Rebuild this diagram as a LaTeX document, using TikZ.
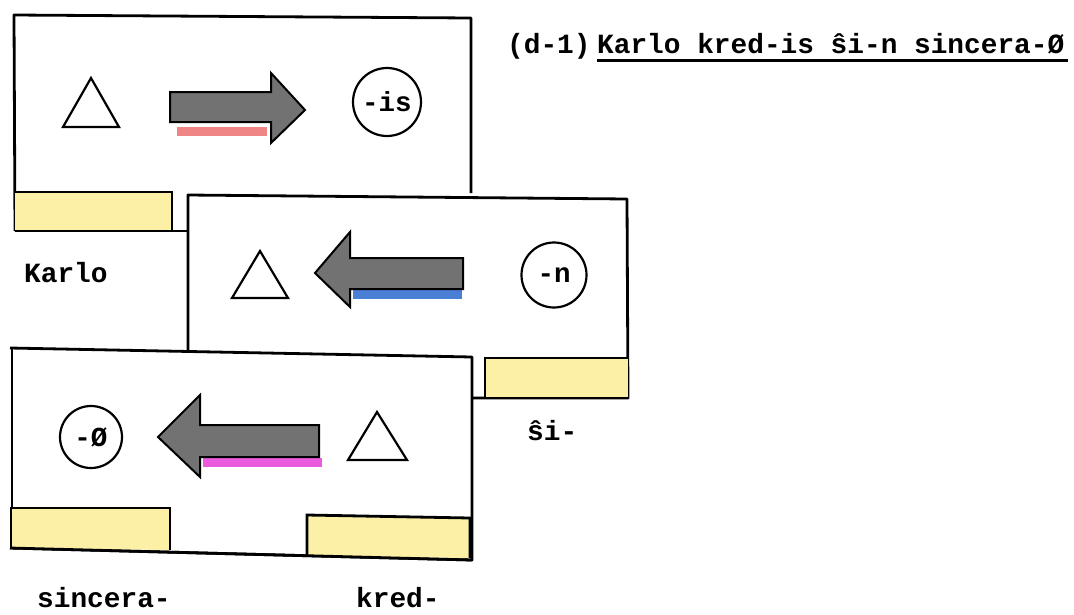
\documentclass[tikz,border=0pt]{standalone}
\usepackage{fontspec}
\setmonofont{Liberation Mono}
\begin{document}
\begin{tikzpicture}[x=1pt,y=-1pt,
  card/.style={draw=black,line width=2.8pt,line join=round},
  ybox/.style={fill=yellowpad,draw=black,line width=2.8pt},
  bigarrow/.style={fill=arrowgray,draw=black,line width=2pt,line join=miter},
  tri/.style={draw=black,line width=2.2pt,line join=miter},
  morph/.style={circle,draw=black,line width=2.2pt,inner sep=0pt,font=\ttfamily\bfseries\fontsize{27.5}{30}\selectfont},
  lbl/.style={anchor=base west,inner sep=0pt,text depth=0pt,font=\ttfamily\bfseries\fontsize{27.8}{30}\selectfont},
  hilite/.style={line width=9pt}
]
\definecolor{yellowpad}{HTML}{FBF0A6}
\definecolor{arrowgray}{HTML}{727272}
\definecolor{redmark}{HTML}{F08585}
\definecolor{bluemark}{HTML}{4A7FD6}
\definecolor{magmark}{HTML}{EA5ADC}
\useasboundingbox[fill=white] (0,0) rectangle (1074,614);

% ---------- card 1 ----------
\fill[white] (14,15) -- (471,18) -- (471,231) -- (15,231) -- cycle;
\draw[card] (15,231) -- (14,15) -- (471,18) -- (471,193);
\draw[ybox] (15,192) -- (172,192) -- (172,231) -- (15,231);
\draw[card] (15,231) -- (188,231);
% triangle
\draw[tri] (63,127) -- (91,78) -- (119,127) -- cycle;
% arrow right
\draw[redmark,hilite] (177,131) -- (267,131);
\draw[bigarrow] (170,92) -- (271,92) -- (271,73) -- (305,110) -- (271,143) -- (271,122) -- (170,122) -- cycle;
\node[morph,minimum size=68pt] (m1) at (387,102) {-is};

% ---------- card 2 ----------
\fill[white] (188,195) -- (627,199) -- (628,398) -- (472,398) -- (472,352) -- (188,352) -- cycle;
\draw[card] (188,352) -- (188,195) -- (627,199) -- (628,398) -- (472,398);
\draw[ybox] (628,398) -- (485,398) -- (485,358) -- (628,358);
% triangle
\draw[tri] (232,298) -- (260,251) -- (288,298) -- cycle;
% arrow left
\draw[bluemark,hilite] (353,294) -- (462,294);
\draw[bigarrow] (463,258) -- (350,258) -- (350,232) -- (315,273) -- (350,307) -- (350,289) -- (463,289) -- cycle;
\node[morph,minimum size=65pt] (m2) at (554,275) {-n};

% ---------- card 3 ----------
\fill[white] (10,348) -- (472,357) -- (472,560) -- (10,548) -- cycle;
\draw[card] (12,548) -- (12,349);
\draw[card] (10,348) -- (472,357) -- (472,560) -- (10,548);
\draw[ybox] (11,548) -- (11,508) -- (170,508) -- (170,550);
\draw[ybox] (307,556) -- (307,515) -- (470,518) -- (470,558);
\draw[card] (10,548) -- (472,560);
% circle
\node[morph,minimum size=62pt] (m3) at (91,437) {-Ø};
% arrow left
\draw[magmark,hilite] (203,462) -- (322,462);
\draw[bigarrow] (319,425) -- (200,425) -- (200,395) -- (158,437) -- (200,477) -- (200,457) -- (319,457) -- cycle;
% triangle
\draw[tri] (348,460) -- (377,412) -- (407,460) -- cycle;

% ---------- labels ----------
\node[lbl] (karlo) at (24,282) {Karlo};
\node[lbl] (si) at (527,440) {ŝi-};
\node[lbl] (sinc) at (37,607) {sincera-};
\node[lbl] (kred) at (356,607) {kred-};

% ---------- title ----------
\node[lbl] (num) at (507,53) {(d-1)};
\node[lbl] (sent) at (597,53) {Karlo kred-is ŝi-n sincera-Ø};
\draw[line width=3pt] (597,60) -- (1068,60);
\end{tikzpicture}
\end{document}
